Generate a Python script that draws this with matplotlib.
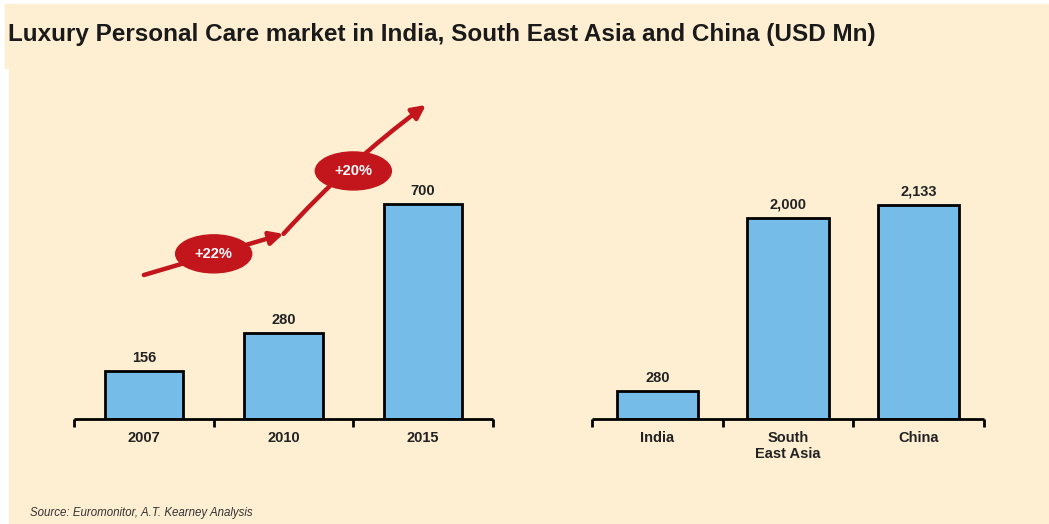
import matplotlib
matplotlib.use("Agg")
import matplotlib.pyplot as plt
from matplotlib.patches import Rectangle, Ellipse

years = ["2007", "2010", "2015"]
india_values = [156, 280, 700]
regions = ["India", "South\nEast Asia", "China"]
region_values = [280, 2000, 2133]
region_labels = ["280", "2,000", "2,133"]
growth = ["+22%", "+20%"]

bg = "#FEEFD2"
bar_col = "#76BCE8"
red = "#C3161C"
fam = ["Liberation Sans Narrow", "Liberation Sans", "DejaVu Sans"]

W, H = 1049, 524
fig = plt.figure(figsize=(W / 100, H / 100), dpi=100, facecolor="white")

# beige background panels
fig.patches.append(Rectangle((5 / W, 1 - 68 / H), 1 - 5 / W, 64 / H,
                             transform=fig.transFigure, color=bg, zorder=-5))
fig.patches.append(Rectangle((9 / W, 0), 1 - 9 / W, 1 - 68 / H,
                             transform=fig.transFigure, color=bg, zorder=-5))

fig.text(8 / W, 1 - 34 / H, "Luxury Personal Care market in India, South East Asia and China (USD Mn)",
         family=fam, weight="bold", fontsize=17.5,
         va="center", ha="left", color="#1a1a1a")
fig.text(30 / W, 1 - 513 / H, "Source: Euromonitor, A.T. Kearney Analysis",
         family=["Liberation Sans", "DejaVu Sans"], style="italic", fontsize=8.3,
         stretch="normal", va="center", ha="left", color="#333333")

bottom = (H - 419) / H
height = (419 - 80) / H
ax1 = fig.add_axes([74 / W, bottom, 419 / W, height])
ax2 = fig.add_axes([592 / W, bottom, 392 / W, height])


def style(ax, labels, ymax):
    ax.set_facecolor("none")
    n = len(labels)
    ax.set_xlim(-0.5, n - 0.5)
    ax.set_ylim(0, ymax)
    for s in ["top", "right", "left"]:
        ax.spines[s].set_visible(False)
    ax.spines["bottom"].set_linewidth(2)
    ax.spines["bottom"].set_capstyle("butt")
    ax.set_yticks([])
    ax.set_xticks([i - 0.5 for i in range(n + 1)])
    ax.set_xticklabels([])
    ax.tick_params(axis="x", which="major", length=6, width=2, direction="out")
    ax.set_xticks(range(n), minor=True)
    ax.set_xticklabels(labels, minor=True, family=fam,
                       weight="bold", fontsize=10.5, color="#222222", linespacing=1.1)
    ax.tick_params(axis="x", which="minor", length=0, pad=9)


style(ax1, years, 339 / 0.307)
ax1.bar(range(3), india_values, width=0.56, color=bar_col, edgecolor="black", linewidth=2)
for i, v in enumerate(india_values):
    ax1.text(i, v + 20, str(v), ha="center", va="bottom", family=fam, weight="bold",
             fontsize=10.5, color="#222222")

style(ax2, regions, 339 / 0.1005)
ax2.bar(range(3), region_values, width=0.62, color=bar_col, edgecolor="black", linewidth=2)
for i, v in enumerate(region_values):
    ax2.text(i, v + 60, region_labels[i], ha="center", va="bottom", family=fam, weight="bold",
             fontsize=10.5, color="#222222")

# growth arrow
ax1.annotate("", xy=(1.0, 603), xytext=(0.0, 469),
             arrowprops=dict(arrowstyle="-|>,head_length=0.8,head_width=0.4", color=red, lw=3.2,
                             shrinkA=0, shrinkB=0), annotation_clip=False)
ax1.annotate("", xy=(2.02, 1023), xytext=(1.0, 603),
             arrowprops=dict(arrowstyle="-|>,head_length=0.8,head_width=0.4", color=red, lw=3.2,
                             shrinkA=0, shrinkB=0, connectionstyle="arc3,rad=-0.05"),
             annotation_clip=False)
for (cx, cy), lab in zip([(0.5, 538), (1.5, 808)], growth):
    ax1.add_patch(Ellipse((cx, cy), 76 / 139.6, 38 / 0.307, color=red, zorder=5))
    ax1.text(cx, cy, lab, ha="center", va="center", family=fam, weight="bold",
             fontsize=10.5, color="white", zorder=6)

fig.savefig("out.png", dpi=100, facecolor=fig.get_facecolor())
